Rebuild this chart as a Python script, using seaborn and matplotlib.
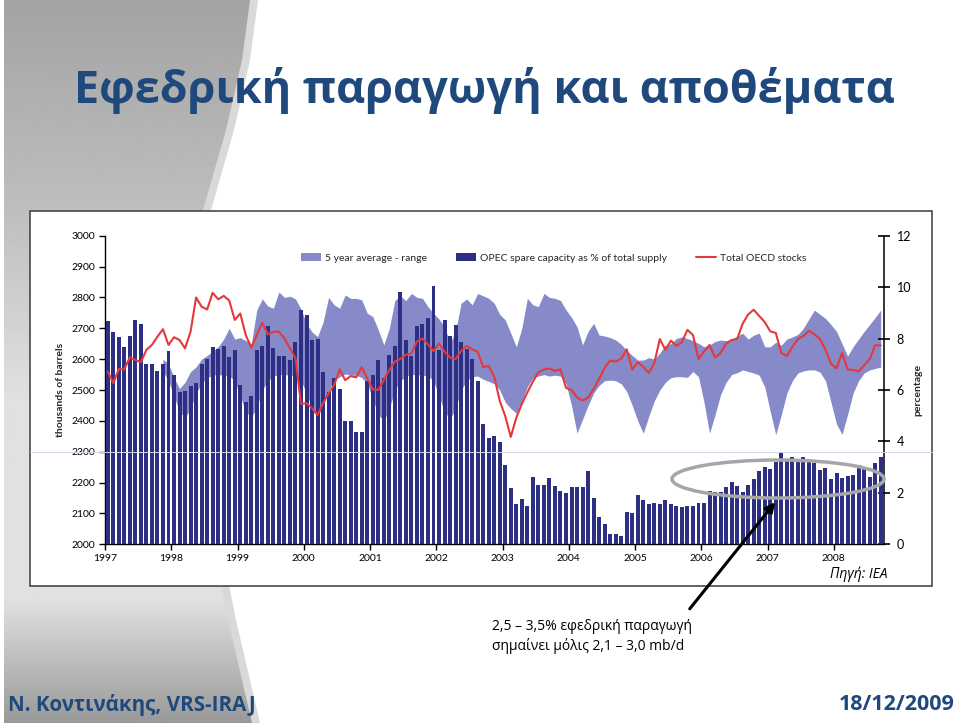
import numpy as np
import matplotlib
matplotlib.use("Agg")
import matplotlib.pyplot as plt
import seaborn as sns
from matplotlib.patches import Patch, Rectangle, Ellipse, Polygon, FancyArrowPatch
from matplotlib.lines import Line2D

# ---------------- data (monthly, Jan 1997 .. Sep 2008) ----------------
year_labels = [str(y) for y in range(1997, 2009)]

spare_pct = [
    8.68, 8.26, 8.08, 7.69, 8.10, 8.73, 8.57, 7.00, 7.01, 6.73, 7.01, 7.53,
    6.60, 5.92, 5.97, 6.14, 6.27, 7.00, 7.22, 7.66, 7.60, 7.70, 7.27, 7.57,
    6.19, 5.53, 5.78, 7.55, 7.71, 8.49, 7.65, 7.32, 7.32, 7.18, 7.86, 9.10,
    8.90, 7.96, 7.99, 6.70, 5.91, 6.47, 6.05, 4.78, 4.78, 4.36, 4.36, 6.34,
    6.60, 7.18, 6.47, 7.35, 7.70, 9.80, 7.96, 7.31, 8.48, 8.58, 8.81, 10.04,
    7.57, 8.71, 8.09, 8.51, 7.86, 7.61, 7.22, 6.36, 4.69, 4.13, 4.21, 3.97,
    3.09, 2.18, 1.56, 1.76, 1.50, 2.63, 2.31, 2.31, 2.59, 2.27, 2.09, 2.01,
    2.24, 2.24, 2.24, 2.85, 1.81, 1.06, 0.79, 0.39, 0.39, 0.34, 1.25, 1.21,
    1.92, 1.73, 1.56, 1.60, 1.58, 1.73, 1.56, 1.49, 1.45, 1.49, 1.50, 1.62,
    1.62, 2.09, 2.05, 2.02, 2.21, 2.41, 2.28, 2.02, 2.30, 2.54, 2.86, 3.02,
    2.93, 3.21, 3.54, 3.22, 3.38, 3.22, 3.38, 3.22, 3.18, 2.89, 2.98, 2.53,
    2.76, 2.59, 2.66, 2.70, 3.09, 3.02, 2.63, 3.18, 3.41,
]

oecd_stocks = [
    2560, 2522, 2568, 2567, 2606, 2597, 2590, 2630, 2646, 2673, 2697, 2646,
    2671, 2662, 2635, 2689, 2800, 2770, 2761, 2815, 2794, 2805, 2790, 2727,
    2748, 2678, 2637, 2678, 2718, 2680, 2689, 2689, 2667, 2635, 2603, 2455,
    2457, 2441, 2419, 2457, 2489, 2516, 2567, 2532, 2545, 2541, 2574, 2538,
    2502, 2500, 2532, 2565, 2592, 2601, 2614, 2619, 2657, 2667, 2648, 2626,
    2651, 2624, 2605, 2600, 2626, 2643, 2632, 2624, 2574, 2578, 2543, 2465,
    2415, 2348, 2410, 2455, 2492, 2527, 2558, 2566, 2570, 2562, 2567, 2507,
    2500, 2476, 2466, 2475, 2503, 2536, 2572, 2596, 2592, 2601, 2632, 2566,
    2590, 2575, 2555, 2588, 2665, 2630, 2660, 2643, 2655, 2695, 2678, 2600,
    2625, 2646, 2605, 2620, 2650, 2662, 2665, 2715, 2745, 2760, 2740, 2720,
    2690, 2685, 2620, 2610, 2640, 2665, 2675, 2692, 2680, 2665, 2630, 2585,
    2570, 2620, 2567, 2565, 2560, 2580, 2600, 2645, 2644,
]

band_first_month = 10
band_high = [
    2600, 2585, 2540, 2505, 2525, 2560, 2575, 2600, 2612, 2625,
    2640, 2665, 2700, 2665, 2670, 2660, 2650, 2760, 2795, 2772,
    2765, 2818, 2800, 2804, 2795, 2762, 2715, 2688, 2673, 2720,
    2800, 2776, 2765, 2808, 2797, 2797, 2792, 2749, 2738, 2695,
    2646, 2700, 2790, 2805, 2790, 2813, 2800, 2797, 2770, 2749,
    2730, 2705, 2652, 2690, 2781, 2795, 2776, 2813, 2805, 2797,
    2781, 2745, 2727, 2684, 2640, 2700, 2797, 2776, 2770, 2813,
    2800, 2797, 2790, 2760, 2735, 2705, 2646, 2690, 2716, 2678,
    2675, 2670, 2662, 2648, 2628, 2612, 2597, 2597, 2605, 2600,
    2620, 2645, 2650, 2667, 2672, 2667, 2660, 2651, 2640, 2646,
    2657, 2662, 2660, 2665, 2675, 2684, 2665, 2678, 2684, 2640,
    2640, 2655, 2645, 2665, 2672, 2680, 2700, 2730, 2759, 2745,
    2732, 2712, 2690, 2650, 2610, 2640, 2665, 2690, 2712, 2735,
    2759,
]
band_low = [
    2560, 2530, 2480, 2430, 2410, 2440, 2490, 2520, 2540, 2548,
    2550, 2548, 2545, 2530, 2480, 2430, 2410, 2445, 2500, 2530,
    2545, 2550, 2550, 2548, 2545, 2530, 2490, 2440, 2410, 2450,
    2500, 2530, 2543, 2552, 2548, 2548, 2540, 2520, 2470, 2420,
    2400, 2440, 2500, 2530, 2545, 2550, 2550, 2548, 2545, 2530,
    2480, 2430, 2405, 2440, 2500, 2530, 2543, 2545, 2535, 2528,
    2520, 2500, 2460, 2440, 2425, 2465, 2510, 2540, 2545, 2550,
    2545, 2548, 2545, 2520, 2450, 2360, 2405, 2450, 2490, 2515,
    2530, 2532, 2530, 2520, 2495, 2450, 2400, 2360, 2415, 2465,
    2500, 2525, 2540, 2543, 2543, 2541, 2560, 2543, 2460, 2360,
    2420, 2485, 2525, 2550, 2556, 2565, 2560, 2555, 2548, 2510,
    2430, 2355, 2420, 2490, 2530, 2555, 2562, 2565, 2565, 2558,
    2530, 2460, 2390, 2356, 2420, 2490, 2530, 2555, 2565, 2570,
    2574,
]

legend_labels = ["5 year average - range", "OPEC spare capacity as % of total supply", "Total OECD stocks"]

# ---------------- styling ----------------
W, H = 960, 723
NAVY = "#2D2F85"
BAND = "#878AC8"
RED = "#E5383B"
TITLE_BLUE = "#1F497D"

sns.set_style("white")
plt.rcParams["font.family"] = ["Lato", "Open Sans", "DejaVu Sans"]
GREEK = ["Open Sans", "DejaVu Sans"]


def fx(x):
    return x / W


def fy(y):
    return 1 - y / H


fig = plt.figure(figsize=(9.6, 7.23), dpi=100)

# slide background: gray side panel
bg = fig.add_axes([0, 0, 1, 1], zorder=-5)
bg.set_xlim(0, W)
bg.set_ylim(H, 0)
bg.axis("off")
ys = np.arange(0, H + 1)
ex = np.interp(ys, [0, 60, 130, 210, 300, 420, 540, 620, 723],
               [250, 242, 226, 203, 192, 195, 212, 228, 252])
strip = Polygon(np.column_stack([np.r_[4, ex + 8, 4], np.r_[0, ys, H]]),
                closed=True, facecolor="#D9D9D9", edgecolor="none", zorder=1)
bg.add_patch(strip)
panel = Polygon(np.column_stack([np.r_[4, ex, 4], np.r_[0, ys, H]]),
                closed=True, facecolor="none", edgecolor="none", zorder=1)
bg.add_patch(panel)
grad = np.interp(ys, [0, 200, 400, 600, 723], [0.64, 0.74, 0.88, 0.88, 0.60])
img = np.tile(grad[:, None], (1, 2))
im = bg.imshow(img, cmap="gray", vmin=0, vmax=1, extent=[0, W, H, 0],
               aspect="auto", zorder=2)
im.set_clip_path(panel)
bg.set_xlim(0, W)
bg.set_ylim(H, 0)

# chart box
fig.add_artist(Rectangle((fx(30), fy(586)), (932 - 30) / W, (586 - 211) / H,
                         transform=fig.transFigure, facecolor="white",
                         edgecolor="#3A3A3A", lw=1.1, zorder=-1))

# axes
left, right, top, bottom = 105, 884, 235.7, 544.3
ax = fig.add_axes([fx(left), fy(bottom), (right - left) / W, (bottom - top) / H])
ax.set_zorder(1)
axb = ax.twinx()
axb.set_zorder(2)
axl = ax.twinx()
axl.set_zorder(3)
axb.patch.set_visible(False)
axl.patch.set_visible(False)

months = np.arange(len(spare_pct))
band_x = np.arange(band_first_month, band_first_month + len(band_high))

# band (behind)
ax.fill_between(band_x, band_low, band_high, color=BAND, lw=0)

# bars
sns.barplot(x=months, y=spare_pct, native_scale=True, ax=axb, color=NAVY,
            saturation=1, width=0.72, errorbar=None, edgecolor="none")

# line (front)
sns.lineplot(x=months[:len(oecd_stocks)], y=oecd_stocks, ax=axl, color=RED, lw=1.5)

xlim = (-0.5, 140.6)
for a in (ax, axb, axl):
    a.set_xlim(*xlim)
    a.set_xlabel("")
ax.set_ylim(2000, 3000)
axl.set_ylim(2000, 3000)
axb.set_ylim(0, 12)

ax.set_xticks([-0.5 + 12 * k for k in range(len(year_labels))])
ax.set_xticklabels(year_labels)
ax.set_yticks(range(2000, 3001, 100))
axb.set_yticks(range(0, 13, 2))
axl.set_yticks([])
axl.set_ylabel("")

for s in ("top", "right"):
    ax.spines[s].set_visible(False)
for s in ("left", "bottom"):
    ax.spines[s].set_color("black")
    ax.spines[s].set_linewidth(1.0)
for s in ("top", "left", "bottom"):
    axb.spines[s].set_visible(False)
axb.spines["right"].set_color("black")
axb.spines["right"].set_linewidth(1.1)
for s in axl.spines.values():
    s.set_visible(False)
axl.tick_params(left=False, right=False, bottom=False, labelleft=False,
                labelright=False, labelbottom=False)
axb.tick_params(bottom=False, labelbottom=False)

ax.tick_params(axis="y", direction="out", length=4, width=1, labelsize=7.5,
               pad=3, colors="black", left=True)
ax.tick_params(axis="x", direction="out", length=4, width=1, labelsize=7.5,
               pad=3, colors="black", bottom=True)
axb.tick_params(axis="y", direction="inout", length=8, width=1.2, labelsize=9,
                pad=5, colors="black", right=True)

ax.set_ylabel("thousands of barrels", fontsize=7.5, fontweight="bold", labelpad=5)
axb.set_ylabel("percentage", fontsize=7.5, fontweight="bold", rotation=90, labelpad=2)

handles = [Patch(facecolor=BAND, edgecolor="none"),
           Patch(facecolor=NAVY, edgecolor="none"),
           Line2D([0], [0], color=RED, lw=1.5)]
leg = axl.legend(handles, legend_labels, ncol=3, loc="center",
                 bbox_to_anchor=(0.576, 0.928), frameon=False, fontsize=7.5,
                 handlelength=1.9, handleheight=0.8, handletextpad=0.4,
                 columnspacing=2.8)

# faint horizontal slide line
fig.add_artist(Line2D([fx(30), fx(932)], [fy(452), fy(452)], transform=fig.transFigure,
                      color="#D4D4EC", lw=0.7, zorder=5))

# annotation ellipse & arrow
fig.add_artist(Ellipse((fx(778), fy(479)), 212 / W, 38 / H, transform=fig.transFigure,
                       fill=False, edgecolor="#A6A6A6", lw=2.5, zorder=10))
fig.add_artist(FancyArrowPatch((fx(688), fy(611)), (fx(777), fy(500)),
                               transform=fig.transFigure, arrowstyle="-|>",
                               mutation_scale=14, lw=2.2, color="black", zorder=11))

# texts
fig.text(fx(484), fy(90), "Εφεδρική παραγωγή και αποθέματα", ha="center", va="center",
         fontsize=32.4, fontweight="bold", color=TITLE_BLUE, family=GREEK)
fig.text(fx(888), fy(574), "Πηγή: IEA", ha="right", va="center", fontsize=10,
         style="italic", color="black", family=GREEK)
fig.text(fx(492), fy(627), "2,5 – 3,5% εφεδρική παραγωγή", ha="left", va="center",
         fontsize=10, color="black", family=GREEK)
fig.text(fx(492), fy(646), "σημαίνει μόλις 2,1 – 3,0 mb/d", ha="left", va="center",
         fontsize=10, color="black", family=GREEK)
fig.text(fx(8), fy(705), "Ν. Κοντινάκης, VRS-IRAJ", ha="left", va="center",
         fontsize=14.8, fontweight="bold", color=TITLE_BLUE, family=GREEK)
fig.text(fx(955), fy(705), "18/12/2009", ha="right", va="center",
         fontsize=15.5, fontweight="bold", color=TITLE_BLUE, family=GREEK)

fig.savefig("out.png", dpi=100)
